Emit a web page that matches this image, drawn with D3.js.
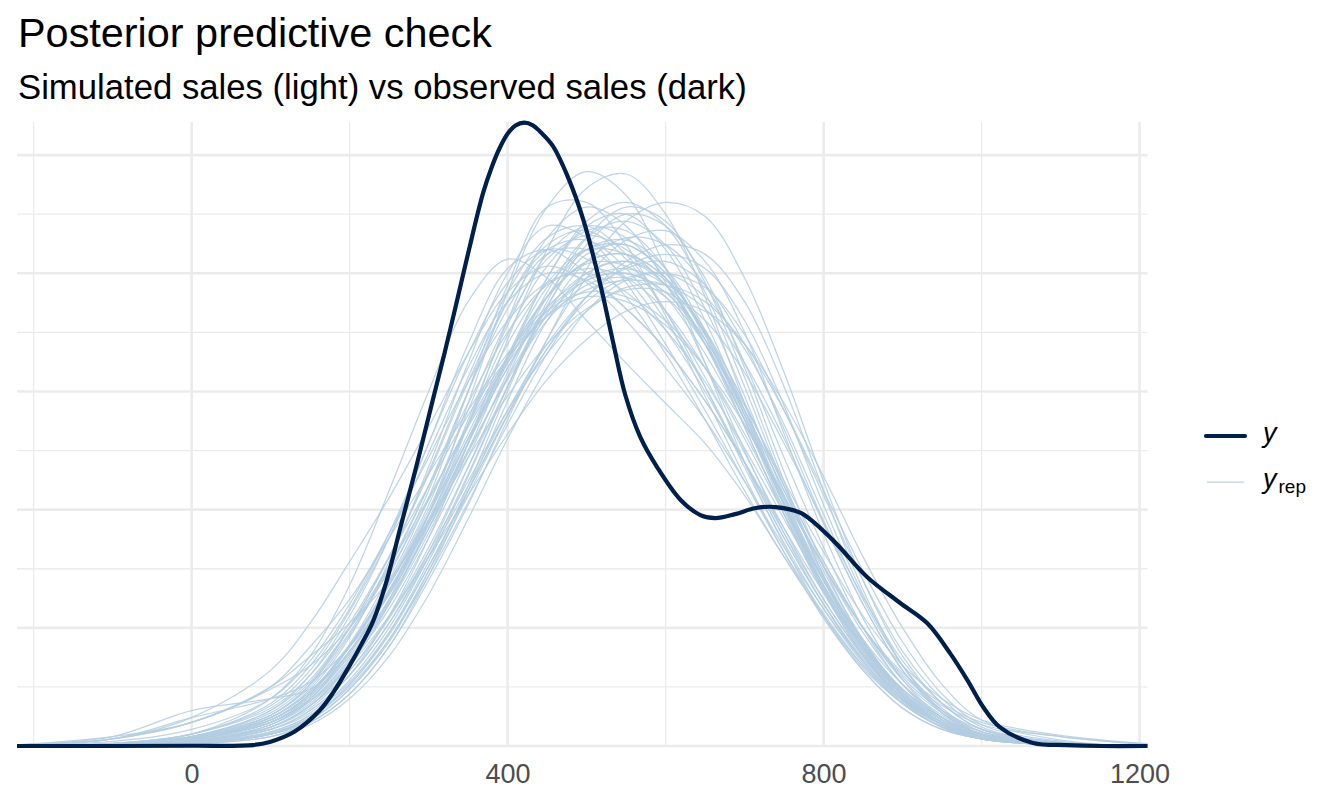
<!DOCTYPE html>
<html>
<head>
<meta charset="utf-8">
<script src="https://cdn.jsdelivr.net/npm/d3@7"></script>
<style>
  html, body { margin: 0; padding: 0; background: #ffffff; }
  svg { display: block; }
  text { font-family: "Liberation Sans", Arial, Helvetica, sans-serif; }
</style>
</head>
<body>
<script>
// ---------------- DATA (density values are shown ×1000) ----------------
const titleText = "Posterior predictive check";
const subtitleText = "Simulated sales (light) vs observed sales (dark)";

const xTickValues = [0, 400, 800, 1200];
const xTickLabels = ["0", "400", "800", "1200"];
const xMinorBreaks = [-200, 200, 600, 1000];
const yMajorBreaks = [0, 0.5, 1, 1.5, 2, 2.5];
const yMinorBreaks = [0.25, 0.75, 1.25, 1.75, 2.25];

// observed sales density (dark line)
const obsX = [-221, -100, 0, 78, 99, 130, 162, 180, 200, 215, 230, 247, 264, 285, 305, 320, 335, 349, 369, 380, 390, 400, 410, 421, 432, 441, 457, 476, 496, 517, 533, 549, 568, 590, 619, 644, 663, 688, 714, 739, 771, 812, 855, 897, 931, 960, 982, 1002, 1023, 1065, 1108, 1150, 1210];
const obsDensity = [0, 0, 0.001, 0.004, 0.017, 0.06, 0.15, 0.23, 0.34, 0.43, 0.53, 0.70, 0.92, 1.19, 1.46, 1.66, 1.87, 2.07, 2.34, 2.45, 2.53, 2.59, 2.625, 2.637, 2.626, 2.60, 2.54, 2.41, 2.225, 1.958, 1.717, 1.485, 1.307, 1.176, 1.041, 0.977, 0.964, 0.981, 1.007, 1.011, 0.986, 0.87, 0.715, 0.605, 0.52, 0.393, 0.279, 0.165, 0.08, 0.013, 0.004, 0, 0];

// simulated sales densities (light lines), evaluated on repX
const repX = [-221, -100, 0, 100, 150, 200, 250, 300, 350, 400, 450, 500, 550, 600, 650, 700, 750, 800, 850, 900, 950, 1000, 1100, 1210];
const yrepDensity = [
  [0,.005,.02,.08,.17,.35,.62,.98,1.45,1.92,2.28,2.43,2.33,2.02,1.62,1.2,.85,.55,.32,.16,.07,.03,.005,0],
  [0,.005,.02,.07,.14,.3,.55,.88,1.28,1.72,2.1,2.36,2.42,2.25,1.9,1.45,1.02,.66,.38,.19,.08,.03,.005,0],
  [0,.003,.01,.05,.1,.22,.42,.7,1.02,1.38,1.72,2.02,2.22,2.3,2.24,1.98,1.58,1.12,.7,.38,.18,.07,.01,0],
  [0,.01,.03,.11,.22,.42,.7,1.05,1.5,1.95,2.28,2.3,2.12,1.82,1.48,1.14,.82,.54,.32,.16,.07,.03,.005,0],
  [0,.005,.03,.1,.2,.38,.62,.92,1.28,1.65,1.98,2.22,2.3,2.2,1.92,1.52,1.1,.72,.42,.21,.09,.03,.005,0],
  [0,.01,.05,.2,.38,.68,1.08,1.5,1.88,2.06,1.98,1.8,1.62,1.45,1.28,1.06,.8,.55,.33,.18,.08,.03,.005,0],
  [0,.01,.04,.15,.3,.55,.88,1.28,1.7,2.02,2.1,2.0,1.85,1.68,1.46,1.2,.9,.62,.38,.2,.09,.03,.005,0],
  [.005,.04,.15,.2,.24,.4,.65,.95,1.3,1.62,1.9,2.05,2.08,1.98,1.75,1.42,1.05,.72,.44,.22,.1,.04,.005,0],
  [.005,.04,.1,.25,.42,.62,.88,1.15,1.42,1.66,1.86,1.98,2.02,1.95,1.75,1.45,1.1,.78,.5,.28,.14,.06,.015,0],
  [0,.005,.03,.1,.2,.4,.66,.98,1.36,1.74,2.03,2.18,2.18,2.02,1.72,1.35,.98,.65,.39,.2,.09,.035,.005,0],
  [0,.003,.02,.08,.16,.32,.55,.84,1.18,1.52,1.83,2.05,2.15,2.12,1.95,1.62,1.22,.84,.5,.26,.11,.04,.005,0],
  [0,.005,.02,.09,.19,.36,.6,.9,1.25,1.63,1.98,2.2,2.25,2.1,1.8,1.42,1.02,.67,.4,.2,.09,.03,.005,0],
  [0,.01,.04,.15,.28,.5,.76,1.05,1.35,1.62,1.82,1.93,1.97,1.95,1.85,1.62,1.3,.94,.6,.32,.15,.06,.01,0],
  [0,.003,.01,.05,.12,.26,.47,.76,1.08,1.4,1.68,1.88,1.98,2.0,1.9,1.68,1.36,.98,.62,.34,.16,.06,.01,0],
  [0,.01,.04,.13,.25,.47,.75,1.1,1.5,1.85,2.08,2.1,1.98,1.76,1.5,1.2,.88,.6,.36,.19,.09,.035,.005,0],
  [0,.005,.03,.11,.21,.4,.64,.94,1.28,1.6,1.85,2.0,2.05,1.97,1.76,1.45,1.1,.78,.5,.3,.17,.09,.04,.005],
  [0,.002,.01,.05,.11,.24,.45,.74,1.06,1.4,1.72,1.98,2.14,2.18,2.05,1.75,1.32,.9,.54,.28,.12,.04,.005,0],
  [0,.01,.05,.16,.3,.52,.8,1.1,1.4,1.64,1.82,1.9,1.88,1.78,1.6,1.36,1.06,.76,.5,.29,.15,.07,.015,0],
  [0,.005,.02,.08,.17,.34,.6,.94,1.36,1.8,2.15,2.28,2.2,1.96,1.62,1.25,.9,.6,.36,.18,.08,.03,.005,0],
  [0,.003,.015,.06,.13,.27,.48,.76,1.08,1.4,1.68,1.9,2.03,2.08,2.02,1.8,1.44,1.02,.64,.34,.15,.05,.008,0],
  [0,.01,.05,.17,.32,.57,.88,1.24,1.6,1.88,2.0,1.97,1.85,1.68,1.46,1.2,.92,.65,.42,.24,.12,.05,.01,0],
  [0,.003,.015,.07,.15,.3,.52,.82,1.18,1.56,1.9,2.1,2.14,2.02,1.76,1.4,1.02,.68,.41,.21,.1,.04,.005,0],
  [0,.008,.03,.12,.24,.46,.78,1.18,1.62,2.0,2.2,2.15,1.96,1.7,1.42,1.12,.82,.56,.34,.18,.08,.03,.005,0],
  [0,.002,.008,.04,.1,.22,.42,.72,1.08,1.46,1.8,2.0,2.05,1.95,1.7,1.38,1.02,.7,.43,.23,.1,.04,.005,0],
  [.005,.03,.1,.25,.38,.52,.7,.95,1.25,1.55,1.8,1.95,1.98,1.9,1.7,1.42,1.08,.76,.48,.26,.12,.05,.01,0],
  [0,.002,.01,.05,.12,.25,.45,.72,1.03,1.36,1.66,1.9,2.05,2.12,2.08,1.88,1.52,1.08,.66,.34,.14,.05,.005,0],
  [0,.008,.035,.13,.26,.48,.76,1.1,1.45,1.75,1.95,2.02,1.98,1.84,1.6,1.3,.98,.68,.43,.24,.12,.05,.01,0],
  [0,.004,.02,.09,.18,.35,.58,.88,1.22,1.58,1.92,2.15,2.22,2.12,1.85,1.48,1.06,.7,.42,.22,.1,.04,.005,0],
  [0,.006,.03,.12,.23,.42,.66,.94,1.22,1.48,1.7,1.85,1.93,1.92,1.8,1.58,1.28,.95,.63,.36,.18,.07,.015,0],
  [0,.006,.03,.11,.22,.42,.69,1.02,1.42,1.8,2.06,2.16,2.1,1.95,1.72,1.42,1.08,.74,.45,.23,.1,.035,.005,0],
  [0,.005,.025,.1,.21,.4,.65,.96,1.3,1.64,1.9,2.05,2.08,1.98,1.74,1.4,1.04,.7,.42,.22,.1,.04,.005,0],
  [0,.003,.012,.06,.13,.28,.5,.8,1.15,1.52,1.86,2.12,2.25,2.2,1.98,1.6,1.16,.76,.44,.22,.09,.03,.005,0],
  [0,.002,.008,.04,.09,.2,.38,.64,.96,1.3,1.6,1.84,1.97,2.0,1.94,1.74,1.42,1.06,.7,.4,.2,.08,.015,0],
  [0,.012,.05,.18,.34,.58,.9,1.28,1.66,1.96,2.1,2.06,1.9,1.66,1.38,1.08,.8,.55,.34,.18,.08,.03,.005,0],
  [0,.005,.03,.12,.23,.42,.68,.98,1.32,1.65,1.9,2.04,2.03,1.9,1.66,1.36,1.05,.76,.5,.31,.18,.1,.04,.008],
  [0,.006,.03,.11,.22,.43,.72,1.08,1.5,1.88,2.12,2.18,2.06,1.84,1.56,1.24,.92,.62,.38,.2,.09,.035,.005,0],
  [0,.004,.02,.08,.17,.32,.54,.82,1.12,1.42,1.66,1.84,1.94,1.95,1.88,1.7,1.42,1.08,.74,.44,.22,.09,.02,0],
  [0,.004,.02,.09,.19,.37,.61,.92,1.28,1.64,1.94,2.1,2.12,2.0,1.74,1.38,1.0,.66,.4,.2,.09,.035,.005,0],
  [0,.005,.025,.1,.2,.39,.65,.98,1.38,1.78,2.08,2.2,2.15,1.98,1.7,1.35,.98,.65,.39,.2,.09,.035,.005,0],
  [.003,.03,.12,.2,.27,.42,.64,.92,1.24,1.56,1.82,1.97,2.0,1.92,1.7,1.38,1.02,.7,.44,.23,.11,.045,.01,0],
  [.005,.03,.12,.32,.52,.78,1.05,1.35,1.66,1.92,2.03,1.96,1.8,1.6,1.38,1.12,.84,.58,.36,.19,.09,.035,.005,0],
  [0,.008,.035,.13,.26,.5,.8,1.16,1.56,1.92,2.15,2.2,2.08,1.84,1.52,1.18,.86,.58,.35,.18,.08,.03,.005,0],
  [0,.003,.015,.07,.15,.3,.52,.8,1.1,1.42,1.7,1.9,2.02,2.05,1.95,1.7,1.34,.95,.6,.32,.14,.05,.008,0],
  [.004,.03,.1,.24,.34,.5,.74,1.04,1.36,1.64,1.84,1.92,1.9,1.8,1.6,1.32,1.0,.7,.45,.26,.13,.05,.01,0],
  [0,.002,.01,.05,.11,.24,.44,.74,1.1,1.5,1.86,2.08,2.12,2.0,1.74,1.4,1.02,.68,.41,.21,.09,.035,.005,0],
  [.003,.02,.07,.2,.36,.6,.9,1.22,1.54,1.8,1.96,2.0,1.92,1.76,1.54,1.26,.96,.67,.42,.23,.11,.045,.01,0],
  [0,.003,.012,.055,.12,.26,.48,.78,1.14,1.52,1.88,2.15,2.28,2.22,1.96,1.56,1.12,.72,.42,.21,.09,.03,.005,0],
  [0,.006,.03,.11,.22,.42,.68,1.0,1.36,1.7,1.96,2.1,2.08,1.95,1.7,1.38,1.03,.71,.44,.24,.11,.045,.01,0],
  [0,.005,.025,.1,.19,.34,.55,.8,1.06,1.32,1.55,1.72,1.84,1.88,1.84,1.7,1.45,1.14,.8,.5,.26,.11,.025,0],
  [0,.008,.04,.14,.27,.5,.8,1.15,1.54,1.88,2.1,2.14,2.02,1.8,1.52,1.2,.88,.6,.37,.2,.09,.035,.005,0],
  [0,.005,.03,.12,.23,.43,.68,.98,1.3,1.6,1.84,1.97,2.0,1.92,1.72,1.44,1.12,.82,.55,.34,.2,.11,.045,.01]
];

const legendLabels = ["y", "rep"];

// ---------------- DRAWING ----------------
const W = 1344, H = 806;
const darkColor = "#011f4b";
const lightColor = "#b3cde0";
const gridColor = "#ebebeb";

const svg = d3.select("body").append("svg").attr("width", W).attr("height", H);

const x = d3.scaleLinear().domain([-221, 1210]).range([17, 1147.5]);
const y = d3.scaleLinear().domain([0, 2.64]).range([746, 122]);

const grid = svg.append("g");
// minor gridlines
grid.selectAll("line.vminor").data(xMinorBreaks).join("line")
  .attr("x1", d => x(d)).attr("x2", d => x(d))
  .attr("y1", y.range()[1]).attr("y2", y.range()[0])
  .attr("stroke", gridColor).attr("stroke-width", 1.3);
grid.selectAll("line.hminor").data(yMinorBreaks).join("line")
  .attr("x1", x.range()[0]).attr("x2", x.range()[1])
  .attr("y1", d => y(d)).attr("y2", d => y(d))
  .attr("stroke", gridColor).attr("stroke-width", 1.3);
// major gridlines
grid.selectAll("line.vmajor").data(xTickValues).join("line")
  .attr("x1", d => x(d)).attr("x2", d => x(d))
  .attr("y1", y.range()[1]).attr("y2", y.range()[0])
  .attr("stroke", gridColor).attr("stroke-width", 2.6);
grid.selectAll("line.hmajor").data(yMajorBreaks).join("line")
  .attr("x1", x.range()[0]).attr("x2", x.range()[1])
  .attr("y1", d => y(d)).attr("y2", d => y(d))
  .attr("stroke", gridColor).attr("stroke-width", 2.6);

// x axis labels via d3 axis
const xAxis = d3.axisBottom(x).tickValues(xTickValues)
  .tickFormat((d, i) => xTickLabels[i]).tickSize(0).tickPadding(0);
const ax = svg.append("g").attr("transform", "translate(0,764)").call(xAxis);
ax.select(".domain").remove();
ax.selectAll("text").attr("font-family", "'Liberation Sans', Arial, sans-serif")
  .attr("font-size", 27).attr("fill", "#4d4d4d").attr("dy", "0.71em");

// density lines
const line = d3.line().curve(d3.curveCatmullRom.alpha(0.5));

svg.append("g").selectAll("path").data(yrepDensity).join("path")
  .attr("d", vals => line(vals.map((v, i) => [x(repX[i]), y(Math.max(0, v))])))
  .attr("fill", "none").attr("stroke", lightColor)
  .attr("stroke-opacity", 0.85).attr("stroke-width", 1.25);

svg.append("path")
  .attr("d", line(obsDensity.map((v, i) => [x(obsX[i]), y(v)])))
  .attr("fill", "none").attr("stroke", darkColor)
  .attr("stroke-width", 4.2).attr("stroke-linejoin", "round");

// titles
svg.append("text").attr("x", 18).attr("y", 47).attr("font-size", 41.4)
  .attr("fill", "#000").text(titleText);
svg.append("text").attr("x", 18).attr("y", 99).attr("font-size", 34.7)
  .attr("fill", "#000").text(subtitleText);

// legend
const lg = svg.append("g");
lg.append("line").attr("x1", 1206).attr("x2", 1245).attr("y1", 436).attr("y2", 436)
  .attr("stroke", darkColor).attr("stroke-width", 4.2).attr("stroke-linecap", "round");
lg.append("line").attr("x1", 1207).attr("x2", 1244).attr("y1", 482).attr("y2", 482)
  .attr("stroke", lightColor).attr("stroke-width", 1.25).attr("stroke-opacity", 0.9);
lg.append("text").attr("x", 1263).attr("y", 442).attr("font-size", 27)
  .attr("font-style", "italic").attr("fill", "#000").text(legendLabels[0]);
const t2 = lg.append("text").attr("x", 1263).attr("y", 488).attr("fill", "#000");
t2.append("tspan").attr("font-size", 27).attr("font-style", "italic").text(legendLabels[0]);
t2.append("tspan").attr("font-size", 19).attr("dy", 5).attr("dx", 2).text(legendLabels[1]);
</script>
</body>
</html>
